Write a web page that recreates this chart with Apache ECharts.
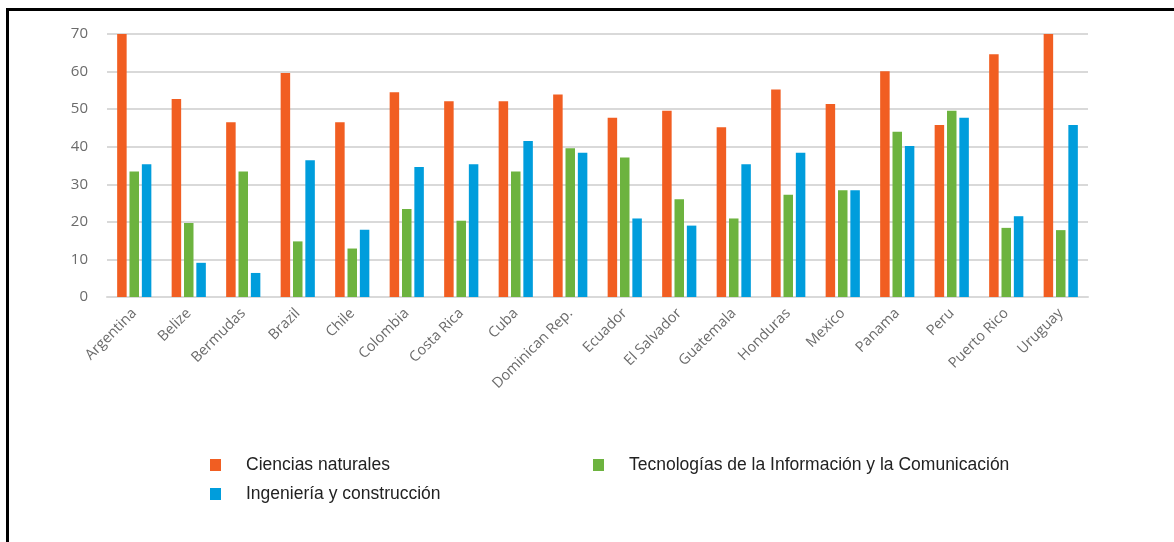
<!DOCTYPE html>
<html>
<head>
<meta charset="utf-8">
<script src="https://cdn.jsdelivr.net/npm/echarts@6/dist/echarts.min.js"></script>
<style>
html,body{margin:0;padding:0;background:#fff;}
#c{width:1174px;height:542px;}
</style>
</head>
<body>
<div id="c"></div>
<script>
const categories = ["Argentina","Belize","Bermudas","Brazil","Chile","Colombia","Costa Rica","Cuba","Dominican Rep.","Ecuador","El Salvador","Guatemala","Honduras","Mexico","Panama","Peru","Puerto Rico","Uruguay"];
const cienciasNaturales = [70.2,52.7,46.5,59.6,46.5,54.5,52.1,52.1,53.9,47.7,49.6,45.2,55.2,51.4,60.1,45.8,64.6,70.8];
const tic = [33.4,19.7,33.4,14.8,12.9,23.4,20.3,33.4,39.6,37.1,26.0,20.9,27.2,28.4,44.0,49.6,18.4,17.8];
const ingenieria = [35.3,9.1,6.4,36.4,17.9,34.6,35.3,41.5,38.4,20.9,19.0,35.3,38.4,28.4,40.2,47.7,21.5,45.8];
const yTicks = [0,10,20,30,40,50,60,70];
const seriesNames = ["Ciencias naturales","Tecnologías de la Información y la Comunicación","Ingeniería y construcción"];
const colors = ["#F15E22","#6DB33F","#009DDC"];

const chart = echarts.init(document.getElementById('c'));
const legendText = {color:'#222', fontFamily:'Liberation Sans', fontSize:17.5, padding:[0,0,0,20]};
chart.setOption({
  animation:false,
  grid:{left:107,right:86,top:34,bottom:245,containLabel:false},
  graphic:[{type:'rect',shape:{x:7.5,y:9.5,width:1200,height:600},style:{fill:'none',stroke:'#000',lineWidth:3},silent:true}],
  legend:[
    {data:[seriesNames[0],seriesNames[2]],orient:'vertical',left:205,top:451,itemWidth:11,itemHeight:12,itemGap:11,textStyle:legendText,icon:'rect'},
    {data:[seriesNames[1]],orient:'vertical',left:588,top:451,itemWidth:11,itemHeight:12,textStyle:legendText,icon:'rect'}
  ],
  xAxis:{type:'category',data:categories,
    axisLine:{show:true,lineStyle:{color:'#d9d9d9',width:2}},
    axisTick:{show:false},
    axisLabel:{rotate:45,interval:0,margin:14,color:'#6b6b6b',fontFamily:'Open Sans',fontSize:14.5}},
  yAxis:{type:'value',min:0,max:70,interval:10,
    axisLine:{show:false},axisTick:{show:false},
    splitLine:{lineStyle:{color:'#d9d9d9',width:2}},
    axisLabel:{margin:19,color:'#6b6b6b',fontFamily:'Open Sans',fontSize:15,
      formatter:function(v){return yTicks.indexOf(v)>=0?String(v):'';}}},
  series:[
    {name:seriesNames[0],type:'bar',data:cienciasNaturales,itemStyle:{color:colors[0]},barWidth:9.5,barGap:'30%'},
    {name:seriesNames[1],type:'bar',data:tic,itemStyle:{color:colors[1]},barWidth:9.5,barGap:'30%'},
    {name:seriesNames[2],type:'bar',data:ingenieria,itemStyle:{color:colors[2]},barWidth:9.5,barGap:'30%'}
  ]
});
</script>
</body>
</html>
